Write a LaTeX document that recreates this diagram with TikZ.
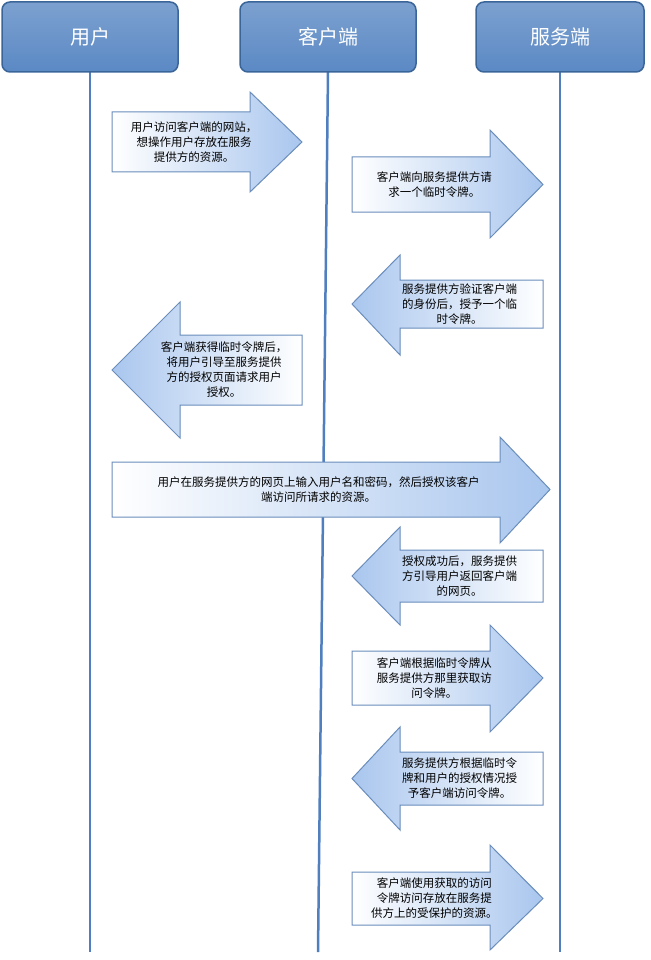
\documentclass[tikz,border=0pt]{standalone}
\usepackage{fontspec}
\setmainfont{Noto Sans CJK SC}
\definecolor{hdrfill}{HTML}{5B89C4}
\definecolor{hdrline}{HTML}{3A6599}
\definecolor{lifeline}{HTML}{4F7FBF}
\definecolor{arrline}{HTML}{6A8DBB}
\definecolor{arrblue}{HTML}{A9C6EE}
\tikzset{
  header/.style={draw=hdrline, line width=1.5pt, rounded corners=8pt, top color=hdrfill!80, bottom color=hdrfill, text=white, font=\fontsize{20}{24}\selectfont},
  life/.style={lifeline, line width=2.5pt},
  msg/.style={draw=arrline, line width=1pt},
  msgtext/.style={align=center, font=\fontsize{11.5}{15}\selectfont}
}
% right arrow: body x1..x2, body y, tip x3, head y
\newcommand{\rarrow}[8]{%
  \draw[msg, left color=white, right color=arrblue] (#1,#4) -- (#2,#4) -- (#2,#6) -- (#3,{(#4+#5)/2}) -- (#2,#7) -- (#2,#5) -- (#1,#5) -- cycle;
  \node[msgtext] at ({(2*#1+#2+#3)/4},{(#4+#5)/2}) {#8};}
% left arrow: tip x1, head end x2, body end x3
\newcommand{\larrow}[8]{%
  \draw[msg, right color=white, left color=arrblue] (#3,#4) -- (#2,#4) -- (#2,#6) -- (#1,{(#4+#5)/2}) -- (#2,#7) -- (#2,#5) -- (#3,#5) -- cycle;
  \node[msgtext] at ({(#1+#2+2*#3)/4},{(#4+#5)/2}) {#8};}
\begin{document}
\begin{tikzpicture}[x=1pt,y=-1pt]
  \useasboundingbox (0,0) rectangle (650,960);

  \draw[life] (90,72) -- (90,952);
  \draw[life] (328,72) -- (318,952);
  \draw[life] (560,72) -- (560,952);

  \node[header, minimum width=176pt, minimum height=70pt] (user) at (90,37) {用户};
  \node[header, minimum width=176pt, minimum height=70pt] (client) at (328,37) {客户端};
  \node[header, minimum width=168pt, minimum height=70pt] (server) at (560,37) {服务端};

  \rarrow{112}{250}{302}{112}{172}{92}{192}{用户访问客户端的网站，\\想操作用户存放在服务\\提供方的资源。}
  \rarrow{352}{490}{543}{157}{212}{130}{238}{客户端向服务提供方请\\求一个临时令牌。}
  \larrow{352}{400}{543}{280}{328}{255}{355}{服务提供方验证客户端\\的身份后，授予一个临\\时令牌。}
  \larrow{112}{180}{302}{335}{405}{302}{438}{客户端获得临时令牌后，\\将用户引导至服务提供\\方的授权页面请求用户\\授权。}
  \rarrow{112}{500}{550}{462}{517}{437}{543}{用户在服务提供方的网页上输入用户名和密码，然后授权该客户\\端访问所请求的资源。}
  \larrow{352}{400}{543}{550}{602}{527}{625}{授权成功后，服务提供\\方引导用户返回客户端\\的网页。}
  \rarrow{352}{490}{543}{651}{705}{625}{732}{客户端根据临时令牌从\\服务提供方那里获取访\\问令牌。}
  \larrow{352}{400}{543}{752}{805}{727}{830}{服务提供方根据临时令\\牌和用户的授权情况授\\予客户端访问令牌。}
  \rarrow{352}{490}{543}{872}{925}{845}{950}{客户端使用获取的访问\\令牌访问存放在服务提\\供方上的受保护的资源。}
\end{tikzpicture}
\end{document}
